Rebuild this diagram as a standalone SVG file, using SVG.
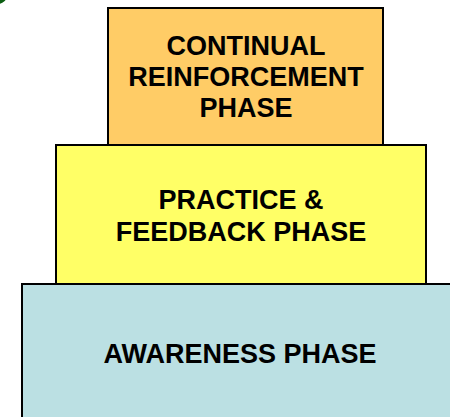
<svg xmlns="http://www.w3.org/2000/svg" width="450" height="417" viewBox="0 0 450 417">
  <style>
    .box { stroke: #000; stroke-width: 2; }
    .label { font-family: "Liberation Sans", Arial, sans-serif; font-weight: bold; font-size: 27px; fill: #000; text-anchor: middle; }
  </style>
  <rect width="450" height="417" fill="#fff"/>
  <!-- corner mark -->
  <circle cx="-2" cy="-5" r="9" fill="#0b5e12"/>

  <g id="connectors"></g>

  <g id="awareness">
    <rect class="box" x="22" y="284" width="440" height="150" fill="#bbe0e3"/>
    <text class="label" x="240" y="363">AWARENESS PHASE</text>
  </g>

  <g id="practice">
    <rect class="box" x="56" y="145" width="370" height="139" fill="#ffff66"/>
    <text class="label" x="241" y="209">PRACTICE &amp;</text>
    <text class="label" x="241" y="241">FEEDBACK PHASE</text>
  </g>

  <g id="reinforcement">
    <rect class="box" x="108" y="8" width="275" height="137" fill="#ffcc66"/>
    <text class="label" x="246" y="55">CONTINUAL</text>
    <text class="label" x="246" y="86">REINFORCEMENT</text>
    <text class="label" x="246" y="117">PHASE</text>
  </g>
</svg>
